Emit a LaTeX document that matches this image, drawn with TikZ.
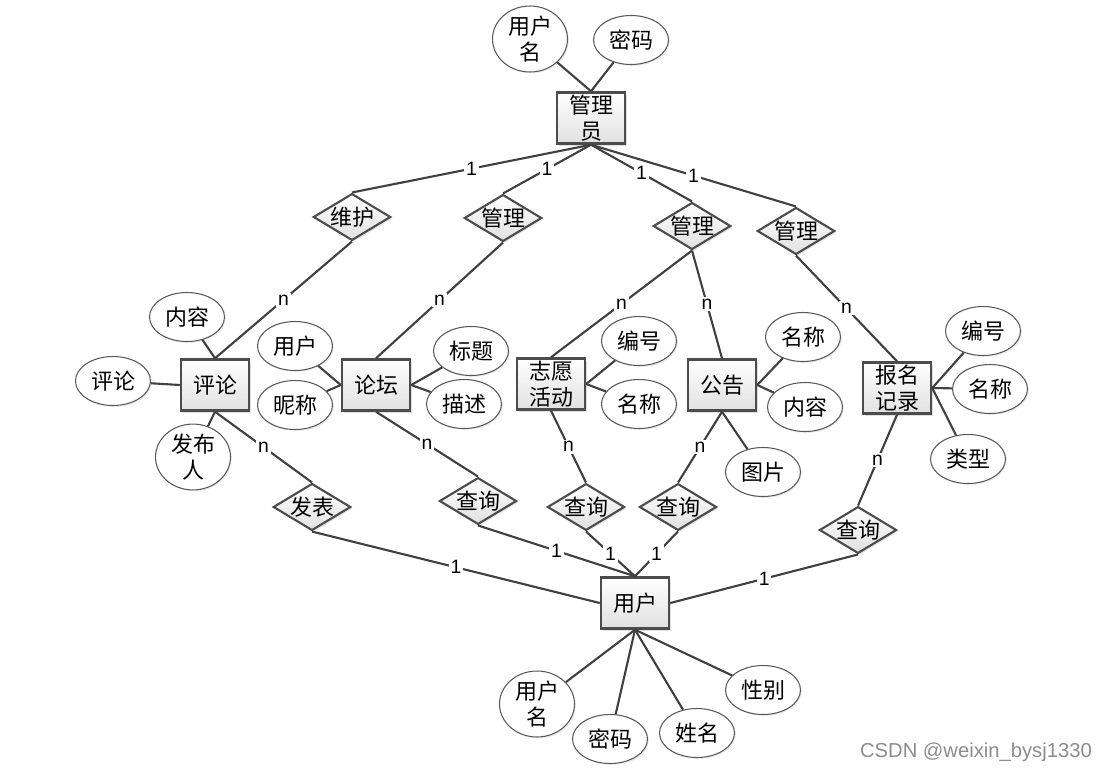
\documentclass[tikz,border=0pt]{standalone}
\usepackage{fontspec}
\setmainfont{Liberation Sans}
\newfontfamily\cjk{Noto Sans CJK SC}
\usepackage{tikz}
\usetikzlibrary{shapes.geometric,shadows}

\begin{document}
\begin{tikzpicture}[
    entity/.style={rectangle, draw=black!70, line width=1.4pt, top color=white, bottom color=black!12, minimum width=1.36cm, minimum height=1.02cm, inner sep=1pt, align=center, font=\cjk\fontsize{12.5}{15}\selectfont, drop shadow={shadow xshift=1.2pt, shadow yshift=-1.2pt, opacity=0.25}},
    rel/.style={diamond, draw=black!70, line width=1.2pt, top color=white, bottom color=black!12, aspect=1.65, minimum width=1.52cm, minimum height=0.92cm, inner sep=0pt, font=\cjk\fontsize{12.5}{15}\selectfont, drop shadow={shadow xshift=1pt, shadow yshift=-1pt, opacity=0.2}},
    attr/.style={ellipse, draw=black!65, line width=0.6pt, fill=white, minimum width=1.5cm, minimum height=0.98cm, inner sep=0pt, align=center, font=\cjk\fontsize{12.5}{15}\selectfont, drop shadow={shadow xshift=0.8pt, shadow yshift=-0.8pt, opacity=0.15}},
    link/.style={draw=black!75, line width=1.2pt},
    card/.style={fill=white, inner sep=1pt, font=\fontsize{11}{12}\selectfont}
]
\useasboundingbox (0,0) rectangle (22.26,-15.44);

% entities
\node[entity] (admin) at (11.82,-2.36) {管理\\员};
\node[entity] (comment) at (4.30,-7.70) {评论};
\node[entity] (forum) at (7.52,-7.70) {论坛};
\node[entity] (activity) at (11.02,-7.68) {志愿\\活动};
\node[entity] (notice) at (14.44,-7.70) {公告};
\node[entity] (signup) at (17.94,-7.76) {报名\\记录};
\node[entity] (user) at (12.70,-12.06) {用户};

% relations
\node[rel] (maintain) at (7.04,-4.34) {维护};
\node[rel] (manage1) at (10.06,-4.36) {管理};
\node[rel] (manage2) at (13.84,-4.52) {管理};
\node[rel] (manage3) at (15.92,-4.62) {管理};
\node[rel] (publish) at (6.24,-10.14) {发表};
\node[rel] (query1) at (9.56,-10.02) {查询};
\node[rel] (query2) at (11.72,-10.14) {查询};
\node[rel] (query3) at (13.56,-10.14) {查询};
\node[rel] (query4) at (17.16,-10.60) {查询};

% attributes
\node[attr] (adminname) at (10.60,-0.78) {用户\\名};
\node[attr] (adminpwd) at (12.62,-0.80) {密码};
\node[attr] (cmtcontent) at (3.74,-6.34) {内容};
\node[attr] (cmttext) at (2.26,-7.62) {评论};
\node[attr] (cmtauthor) at (3.86,-9.14) {发布\\人};
\node[attr] (fruser) at (5.90,-6.92) {用户};
\node[attr] (frnick) at (5.90,-8.10) {昵称};
\node[attr] (frtitle) at (9.42,-7.02) {标题};
\node[attr] (frdesc) at (9.28,-8.08) {描述};
\node[attr] (actid) at (12.78,-6.82) {编号};
\node[attr] (actname) at (12.78,-8.08) {名称};
\node[attr] (ntname) at (16.06,-6.74) {名称};
\node[attr] (ntcontent) at (16.10,-8.14) {内容};
\node[attr] (ntpic) at (15.26,-9.44) {图片};
\node[attr] (sgid) at (19.66,-6.62) {编号};
\node[attr] (sgname) at (19.80,-7.78) {名称};
\node[attr] (sgtype) at (19.36,-9.18) {类型};
\node[attr] (username) at (10.74,-14.08) {用户\\名};
\node[attr] (userpwd) at (12.20,-14.78) {密码};
\node[attr] (userreal) at (13.94,-14.66) {姓名};
\node[attr] (usersex) at (15.26,-13.80) {性别};

% admin side
\draw[link] (admin.south) -- node[card] {1} (maintain.north);
\draw[link] (admin.south) -- node[card] {1} (manage1.north);
\draw[link] (admin.south) -- node[card] {1} (manage2.north);
\draw[link] (admin.south) -- node[card] {1} (manage3.north);
\draw[link] (maintain.south) -- node[card] {n} (comment.north);
\draw[link] (manage1.south) -- node[card] {n} (forum.north);
\draw[link] (manage2.south) -- node[card] {n} (activity.north);
\draw[link] (manage2.south) -- node[card] {n} (notice.north);
\draw[link] (manage3.south) -- node[card] {n} (signup.north);

% user side
\draw[link] (comment.south) -- node[card] {n} (publish.north);
\draw[link] (forum.south) -- node[card] {n} (query1.north);
\draw[link] (activity.south) -- node[card] {n} (query2.north);
\draw[link] (notice.south) -- node[card] {n} (query3.north);
\draw[link] (signup.south) -- node[card] {n} (query4.north);
\draw[link] (publish.south) -- node[card] {1} (user.west);
\draw[link] (query1.south) -- node[card] {1} (user.north);
\draw[link] (query2.south) -- node[card] {1} (user.north);
\draw[link] (query3.south) -- node[card] {1} (user.north);
\draw[link] (query4.south) -- node[card] {1} (user.east);

% attribute links
\draw[link] (adminname) -- (admin.north);
\draw[link] (adminpwd) -- (admin.north);
\draw[link] (cmtcontent) -- (comment.north);
\draw[link] (cmttext) -- (comment.west);
\draw[link] (cmtauthor) -- (comment.south);
\draw[link] (fruser) -- (forum.west);
\draw[link] (frnick) -- (forum.west);
\draw[link] (frtitle) -- (forum.east);
\draw[link] (frdesc) -- (forum.east);
\draw[link] (actid) -- (activity.east);
\draw[link] (actname) -- (activity.east);
\draw[link] (ntname) -- (notice.east);
\draw[link] (ntcontent) -- (notice.east);
\draw[link] (ntpic) -- (notice.south);
\draw[link] (sgid) -- (signup.east);
\draw[link] (sgname) -- (signup.east);
\draw[link] (sgtype) -- (signup.east);
\draw[link] (username) -- (user.south);
\draw[link] (userpwd) -- (user.south);
\draw[link] (userreal) -- (user.south);
\draw[link] (usersex) -- (user.south);

\node[anchor=east, text=black!45, font=\fontsize{11.5}{13}\selectfont] (mark) at (21.96,-15.04) {CSDN @weixin\_bysj1330};
\end{tikzpicture}
\end{document}
